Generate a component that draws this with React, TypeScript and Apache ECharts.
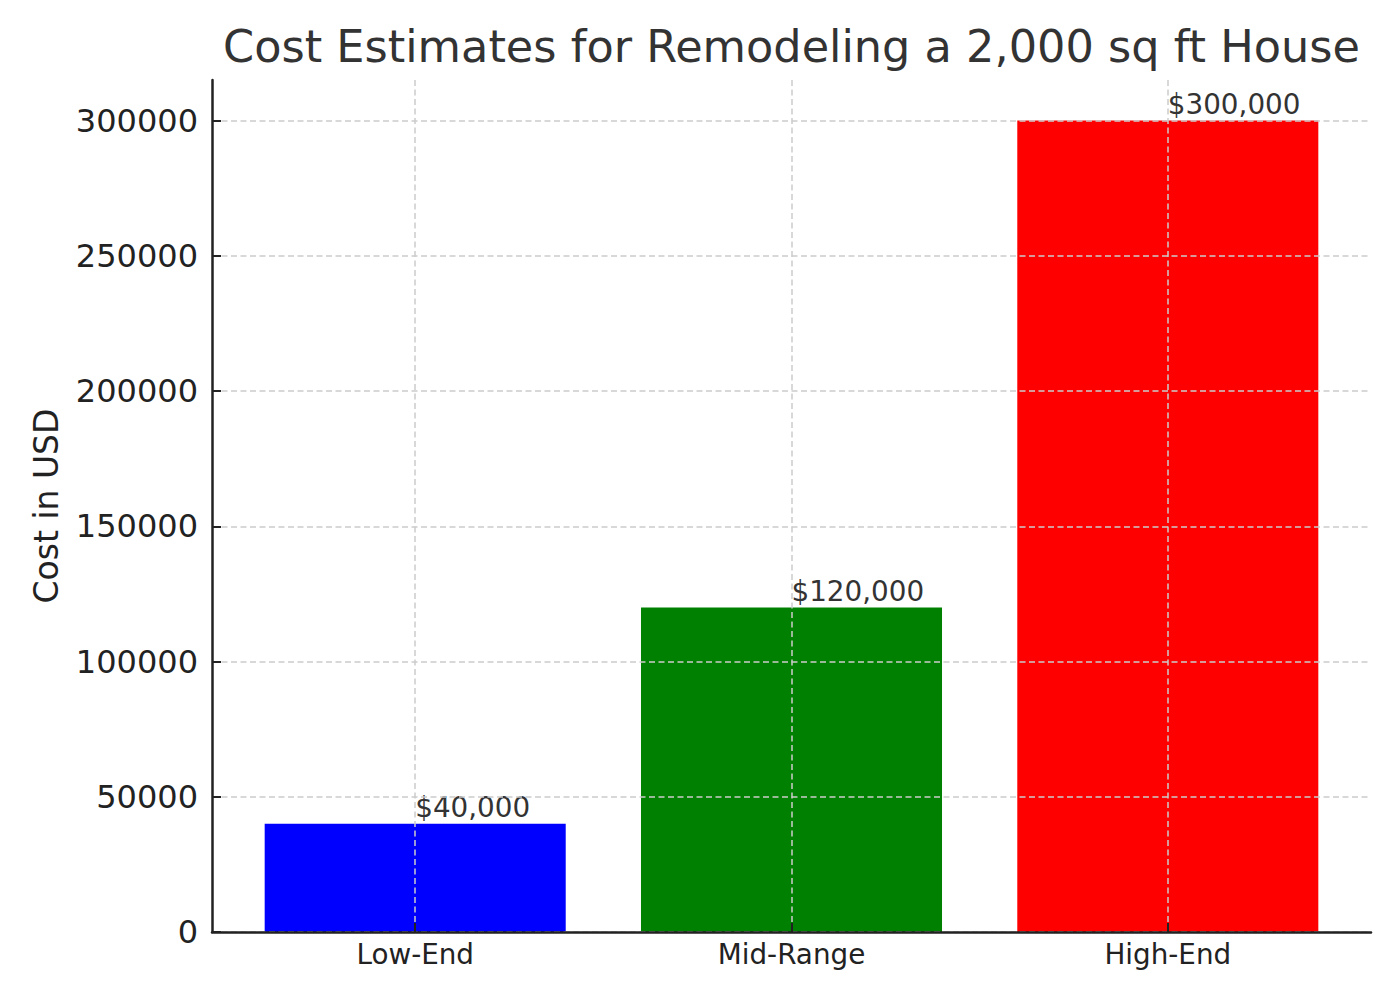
import * as echarts from 'echarts';
import { useEffect, useRef } from 'react';

const categories = ['Low-End', 'Mid-Range', 'High-End'];
const costs = [40000, 120000, 300000];
const costLabels = ['$40,000', '$120,000', '$300,000'];
const barColors = ['#0000ff', '#008000', '#ff0000'];
const yTicks = [0, 50000, 100000, 150000, 200000, 250000, 300000];
const xTicks = [0, 1, 2];

const FONT = 'DejaVu Sans';

export default function App() {
  const chartRef = useRef<HTMLDivElement>(null);

  useEffect(() => {
    if (!chartRef.current) return;

    const chart = echarts.init(chartRef.current, undefined, { renderer: 'svg' });

    // plot area, in px
    const left = 212;
    const right = 1371;
    const top = 80;
    const bottom = 932;
    const xMin = -0.54;
    const xMax = 2.54;
    const barPx = (0.8 * (right - left)) / (xMax - xMin);

    const gridLine = {
      show: true,
      lineStyle: { color: '#cccccc', width: 1.5, type: [6, 3.5] },
    };

    chart.setOption({
      animation: false,
      textStyle: { fontFamily: FONT },
      grid: { left, right: 1400 - right, top, bottom: 1000 - bottom, containLabel: false },
      graphic: [
        {
          type: 'text',
          x: (left + right) / 2,
          y: 69,
          style: {
            text: 'Cost Estimates for Remodeling a 2,000 sq ft House',
            fontFamily: FONT,
            fontSize: 44.6,
            fill: '#333333',
            textAlign: 'center',
            textVerticalAlign: 'bottom',
          },
        },
      ],
      xAxis: {
        type: 'value',
        min: xMin,
        max: xMax,
        z: 5,
        axisLine: { show: true, onZero: false, lineStyle: { color: '#222222', width: 2.5 } },
        axisTick: {
          show: true,
          inside: true,
          length: 9,
          customValues: xTicks,
          lineStyle: { color: '#222222', width: 2 },
        },
        axisLabel: {
          customValues: xTicks,
          formatter: (v: number) => categories[Math.round(v)] ?? '',
          fontFamily: FONT,
          fontSize: 27.8,
          color: '#222222',
          margin: 8,
        },
        splitLine: gridLine,
      },
      yAxis: {
        type: 'value',
        min: 0,
        max: 315000,
        z: 5,
        name: 'Cost in USD',
        nameLocation: 'middle',
        nameRotate: 90,
        nameGap: 149,
        nameTextStyle: { fontFamily: FONT, fontSize: 33, color: '#222222' },
        axisLine: { show: true, onZero: false, lineStyle: { color: '#222222', width: 2.5 } },
        axisTick: {
          show: true,
          inside: true,
          length: 9,
          customValues: yTicks,
          lineStyle: { color: '#222222', width: 2 },
        },
        axisLabel: {
          customValues: yTicks,
          formatter: (v: number) => String(v),
          fontFamily: FONT,
          fontSize: 32,
          color: '#222222',
          margin: 14,
        },
        splitLine: gridLine,
      },
      series: [
        {
          type: 'bar',
          barWidth: barPx,
          data: costs.map((v, i) => ({
            value: [xTicks[i], v],
            itemStyle: { color: barColors[i] },
            label: { formatter: costLabels[i] },
          })),
          label: {
            show: true,
            position: 'top',
            align: 'left',
            distance: 2,
            fontFamily: FONT,
            fontSize: 27.8,
            color: '#333333',
          },
        },
      ],
    });

    const handleResize = () => chart.resize();
    window.addEventListener('resize', handleResize);

    return () => {
      window.removeEventListener('resize', handleResize);
      chart.dispose();
    };
  }, []);

  return (
    <div
      ref={chartRef}
      style={{ position: 'fixed', left: 0, top: 0, width: '1400px', height: '1000px', background: '#ffffff' }}
    />
  );
}
